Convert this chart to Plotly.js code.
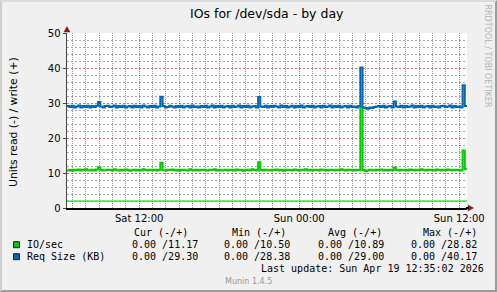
<!DOCTYPE html>
<html><head><meta charset="utf-8">
<script src="https://cdn.plot.ly/plotly-3.0.1.min.js"></script>
<style>
html,body{margin:0;padding:0;background:#f0f0f0;}
#wrap{position:relative;width:497px;height:292px;}
#chart{width:497px;height:292px;}
#frame{position:absolute;left:0;top:0;width:497px;height:292px;box-sizing:border-box;border-left:2px solid #cfcfcf;border-top:2px solid #dcdcdc;border-right:2px solid #9c9c9c;border-bottom:2px solid #9c9c9c;pointer-events:none;}
</style>
</head><body>
<div id="wrap"><div id="chart"></div><div id="frame"></div></div>
<script>
// ---- data ----
const startUTC = Date.UTC(2026, 3, 18, 6, 35);   // Sat 06:35
const stepMinutes = 10;
const ioSec = [
 10.75,10.85,10.65,10.95,10.80,11.00,10.75,10.85,11.05,10.80,
 10.70,10.90,10.75,11.00,11.65,10.85,10.70,10.80,10.95,10.85,
 10.75,11.05,10.80,10.70,10.85,10.75,11.00,10.85,10.65,10.80,
 10.95,10.75,10.85,10.70,11.05,10.85,10.75,10.90,10.80,10.95,
 10.75,10.85,12.90,10.80,10.70,10.95,10.85,11.00,10.75,10.85,
 10.65,10.85,10.95,10.80,10.75,11.05,10.85,10.75,10.90,10.70,
 10.85,10.95,10.80,10.75,10.95,10.85,11.05,10.75,10.85,10.70,
 10.80,10.95,10.75,10.90,10.85,10.75,11.00,10.80,10.85,10.65,
 10.85,10.95,10.75,11.05,10.85,10.75,13.10,10.85,10.75,10.95,
 10.80,10.70,10.90,10.85,11.00,10.75,10.85,10.65,10.95,10.80,
 10.85,10.75,11.00,10.85,10.70,10.90,10.80,11.05,10.75,10.85,
 10.75,10.95,10.85,10.70,11.00,10.80,10.85,10.75,10.95,10.85,
 10.75,10.90,10.80,11.05,10.85,10.75,10.95,10.80,10.85,10.70,
 10.85,10.80,28.82,10.85,10.50,10.75,10.95,10.80,10.70,10.90,
 10.85,11.00,10.75,10.85,10.75,10.95,10.80,11.60,10.85,10.75,
 10.95,10.80,10.85,10.70,11.00,10.85,10.75,10.90,10.80,11.05,
 10.85,10.75,10.95,10.80,10.85,10.70,11.00,10.85,10.75,10.90,
 10.80,11.00,10.85,10.75,10.95,10.80,10.85,10.75,16.40,11.05,
 11.17];
const reqSizeKB = [
 29.15,28.85,29.25,28.75,29.00,29.30,28.70,29.15,28.85,29.25,
 28.75,29.15,28.85,29.25,30.30,29.00,28.70,29.15,29.25,28.85,
 29.00,29.30,28.75,29.15,28.85,29.25,28.70,29.00,29.15,28.75,
 29.25,28.85,29.15,28.70,29.30,29.00,28.75,29.15,28.85,29.25,
 28.75,29.00,31.80,29.15,28.70,28.85,29.25,29.00,28.75,29.15,
 28.85,29.25,28.70,29.00,29.15,28.75,29.30,28.85,29.00,28.70,
 29.15,28.85,29.25,28.75,29.00,29.30,28.70,29.15,28.85,29.25,
 28.75,29.00,29.15,28.70,29.25,28.85,29.00,29.30,28.75,29.15,
 28.85,29.25,28.70,29.00,29.15,28.75,31.70,29.00,28.85,29.25,
 28.70,29.15,28.85,29.25,29.00,28.75,29.30,28.85,29.15,28.70,
 29.00,29.25,28.75,29.15,28.85,29.30,28.70,29.00,29.15,28.85,
 29.25,28.75,29.00,29.15,28.70,29.25,28.85,29.00,29.30,28.75,
 29.15,28.85,29.25,28.70,29.00,29.15,28.75,29.25,28.85,29.00,
 28.70,29.15,40.17,28.70,28.60,28.38,28.75,28.60,28.85,29.00,
 29.15,28.85,29.25,28.70,29.00,29.15,28.75,30.40,29.00,28.85,
 29.25,28.70,29.15,28.85,29.00,29.30,28.75,29.15,28.85,29.25,
 28.70,29.00,29.15,28.75,29.25,28.85,29.00,28.70,29.15,29.25,
 28.85,29.00,29.30,28.70,29.15,28.85,29.00,28.75,35.10,29.15,
 29.30];
const lowRuleValue = [2.0, 2.0];
const seriesNames = ['IO/sec', 'Req Size (KB)'];
const seriesColors = ['#00cc00', '#0066b3'];
const statHeaders = ['Cur (-/+)', 'Min (-/+)', 'Avg (-/+)', 'Max (-/+)'];
const readCur = [0.00, 0.00],  writeCur = [11.17, 29.30];
const readMin = [0.00, 0.00],  writeMin = [10.50, 28.38];
const readAvg = [0.00, 0.00],  writeAvg = [10.89, 29.00];
const readMax = [0.00, 0.00],  writeMax = [28.82, 40.17];
const titleText = 'IOs for /dev/sda - by day';
const yTitleText = 'Units read (-) / write (+)';
const lastUpdate = 'Last update: Sun Apr 19 12:35:02 2026';
const sideText = 'RRDTOOL / TOBI OETIKER';
const footerText = 'Munin 1.4.5';
const xRange = ['2026-04-18 06:35:00', '2026-04-19 12:35:00'];
const yRange = [0, 50];

// ---- build ----
function fmt(ms) { return new Date(ms).toISOString().replace('T', ' ').slice(0, 19); }
const times = ioSec.map((_, i) => fmt(startUTC + i * stepMinutes * 60000));

// pixel -> paper helpers (plot area 67..467 x 33..208)
const L = 67, R = 467, T = 33, B = 208;
const px = x => (x - L) / (R - L);
const py = y => (B - y) / (B - T);

const traces = [
  {x: xRange, y: lowRuleValue, mode: 'lines', line: {color: seriesColors[0], width: 1}, hoverinfo: 'skip'},
  {x: times, y: ioSec, name: seriesNames[0], mode: 'lines', line: {color: seriesColors[0], width: 2, shape: 'hv'}},
  {x: times, y: reqSizeKB, name: seriesNames[1], mode: 'lines', line: {color: seriesColors[1], width: 2, shape: 'hv'}}
];

const mono = {family: 'DejaVu Sans Mono', size: 10, color: '#000'};
const ann = [];
function txt(text, x, y, font, xanchor, extra) {
  ann.push(Object.assign({text: text, x: px(x), y: py(y), xref: 'paper', yref: 'paper', showarrow: false,
    xanchor: xanchor || 'left', yanchor: 'middle', font: font, borderpad: 0, borderwidth: 0}, extra || {}));
}
txt(titleText, 267, 13.5, {family: 'DejaVu Sans', size: 12.5, color: '#000'}, 'center');
txt(yTitleText, 13.5, 122.5, {family: 'DejaVu Sans', size: 10.8, color: '#000'}, 'center', {textangle: -90});
txt(sideText, 487.5, 56, {family: 'DejaVu Sans', size: 8, color: '#b4b4b4'}, 'center', {textangle: 90});

const headX = [134.3, 231.7, 328.3, 423.3];
const valX = [131.7, 224.3, 317.7, 411.0];
statHeaders.forEach((h, i) => txt(h, headX[i], 232.7, mono, 'left'));
const rowY = [244.7, 256.7];
const pairs = [[readCur, writeCur], [readMin, writeMin], [readAvg, writeAvg], [readMax, writeMax]];
const shapes = [];
seriesNames.forEach((n, s) => {
  txt(n, 27.3, rowY[s], mono, 'left');
  pairs.forEach((p, c) => {
    const v = p[0][s].toFixed(2) + ' /' + p[1][s].toFixed(2).padStart(5, ' ');
    txt(v, valX[c], rowY[s], mono, 'left');
  });
  shapes.push({type: 'rect', xref: 'paper', yref: 'paper', x0: px(13.5), x1: px(19.5), y0: py(rowY[s] - 3), y1: py(rowY[s] + 3),
    fillcolor: seriesColors[s], line: {color: '#222', width: 1}, layer: 'above'});
});
txt(lastUpdate, 483.5, 268.7, mono, 'right');
txt(footerText, 248, 281, {family: 'DejaVu Sans', size: 8, color: '#999'}, 'center');

// axis arrows
const arrowCol = '#8b1a1a';
shapes.push({type: 'path', xref: 'paper', yref: 'paper', layer: 'above',
  path: `M ${px(64)},${py(32)} L ${px(70)},${py(32)} L ${px(67)},${py(26.5)} Z`,
  fillcolor: arrowCol, line: {color: arrowCol, width: 0.5}});
shapes.push({type: 'path', xref: 'paper', yref: 'paper', layer: 'above',
  path: `M ${px(468)},${py(205)} L ${px(468)},${py(211)} L ${px(473.5)},${py(208)} Z`,
  fillcolor: arrowCol, line: {color: arrowCol, width: 0.5}});
shapes.push({type: 'line', xref: 'paper', yref: 'paper', layer: 'above',
  x0: px(466), x1: px(469), y0: py(208), y1: py(208), line: {color: '#000', width: 2}});

const gridMajor = 'rgba(240,0,0,0.6)', gridMinorX = '#989898';
const gridMajorY = 'rgba(240,0,0,0.6)', gridMinorY = '#a8a8a8';
const layout = {
  width: 497, height: 292,
  margin: {l: L, r: 497 - R, t: T, b: 292 - B, pad: 0},
  paper_bgcolor: '#f0f0f0', plot_bgcolor: '#ffffff',
  showlegend: false,
  font: {family: 'DejaVu Sans', size: 10, color: '#000'},
  xaxis: {
    type: 'date', range: xRange, tickformat: '%a %H:%M',
    tick0: '2026-04-18 00:00:00', dtick: 43200000,
    showgrid: true, gridcolor: gridMajor, griddash: '1px,1px', gridwidth: 1,
    minor: {tick0: '2026-04-18 00:00:00', dtick: 3600000, showgrid: true, gridcolor: gridMinorX, griddash: '1px,1px', gridwidth: 1, ticks: ''},
    showline: true, linecolor: '#000', linewidth: 2, ticks: '', zeroline: false,
    tickfont: {family: 'DejaVu Sans', size: 10, color: '#000'}, fixedrange: true
  },
  yaxis: {
    range: yRange, tick0: 0, dtick: 10,
    showgrid: true, gridcolor: gridMajorY, griddash: '2px,2px', gridwidth: 1,
    minor: {tick0: 0, dtick: 2, showgrid: true, gridcolor: gridMinorY, griddash: '2px,2px', gridwidth: 1, ticks: ''},
    showline: true, linecolor: '#444', linewidth: 1.5, ticks: 'outside', ticklen: 3, tickcolor: '#444', tickwidth: 1,
    zeroline: false, tickfont: {family: 'DejaVu Sans', size: 10, color: '#000'}, fixedrange: true
  },
  annotations: ann,
  shapes: shapes
};
Plotly.newPlot('chart', traces, layout, {displayModeBar: false, staticPlot: true});
</script>
</body></html>
